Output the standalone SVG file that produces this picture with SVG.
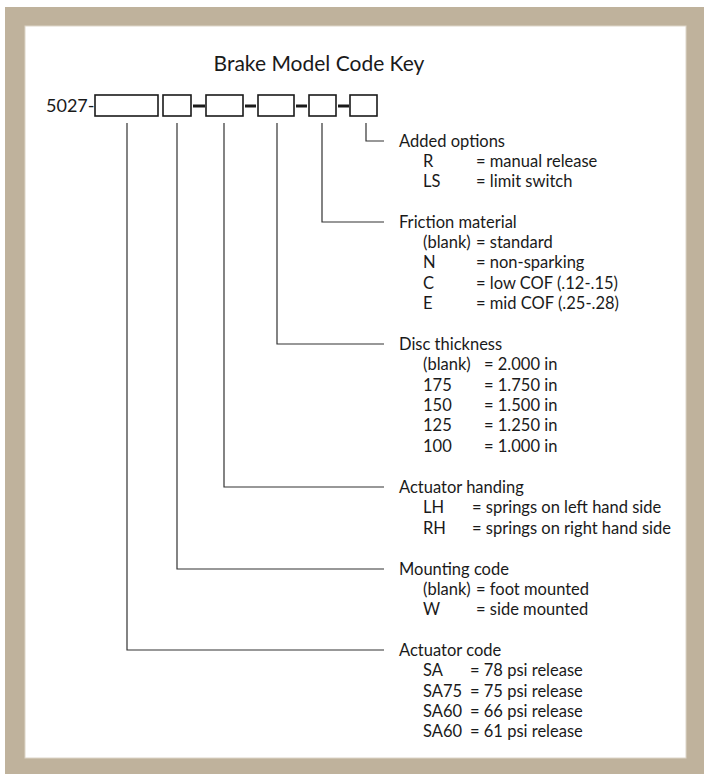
<svg xmlns="http://www.w3.org/2000/svg" width="704" height="774" viewBox="0 0 704 774">
<style>
text{font-family:Lato,"Open Sans","Liberation Sans",sans-serif;fill:#1a1a1a;font-size:16.5px}
.title{font-size:21px}
.code{font-size:18px}
.box{fill:#fff;stroke:#1a1a1a;stroke-width:1.6}
.dash{stroke:#1a1a1a;stroke-width:3}
.conn{fill:none;stroke:#333;stroke-width:1.2}
</style>
<rect x="5" y="7" width="700" height="770" fill="#bfb29c"/>
<rect x="25" y="26" width="661" height="732" fill="#fff" stroke="#ddd5c8" stroke-width="1"/>
<text class="title" x="319" y="71" text-anchor="middle">Brake Model Code Key</text>
<g id="code">
<text class="code" x="46" y="112">5027-</text>
<rect class="box" x="95" y="95" width="63" height="21"/>
<rect class="box" x="163" y="95" width="28" height="21"/>
<line class="dash" x1="193" y1="106" x2="205" y2="106"/>
<rect class="box" x="206" y="95" width="37" height="21"/>
<line class="dash" x1="245" y1="106" x2="256" y2="106"/>
<rect class="box" x="258" y="95" width="36" height="21"/>
<line class="dash" x1="296" y1="106" x2="307" y2="106"/>
<rect class="box" x="309" y="95" width="27" height="21"/>
<line class="dash" x1="338" y1="106" x2="349" y2="106"/>
<rect class="box" x="350" y="95" width="27" height="21"/>
</g>
<g id="connectors">
<polyline class="conn" points="366,123 366,141 384,141"/>
<polyline class="conn" points="322,123 322,222 384,222"/>
<polyline class="conn" points="277,123 277,344 384,344"/>
<polyline class="conn" points="224,123 224,487 384,487"/>
<polyline class="conn" points="177,123 177,569 384,569"/>
<polyline class="conn" points="127,123 127,650 384,650"/>
</g>
<g id="added-options">
<text x="399" y="147">Added options</text>
<text x="423" y="167">R</text><text x="476" y="167">= manual release</text>
<text x="423" y="187">LS</text><text x="476" y="187">= limit switch</text>
</g>
<g id="friction-material">
<text x="399" y="228">Friction material</text>
<text x="423" y="248">(blank)</text><text x="476" y="248">= standard</text>
<text x="423" y="268">N</text><text x="476" y="268">= non-sparking</text>
<text x="423" y="289">C</text><text x="476" y="289">= low COF (.12-.15)</text>
<text x="423" y="309">E</text><text x="476" y="309">= mid COF (.25-.28)</text>
</g>
<g id="disc-thickness">
<text x="399" y="350">Disc thickness</text>
<text x="423" y="370">(blank)</text><text x="484" y="370">= 2.000 in</text>
<text x="423" y="391">175</text><text x="484" y="391">= 1.750 in</text>
<text x="423" y="411">150</text><text x="484" y="411">= 1.500 in</text>
<text x="423" y="431">125</text><text x="484" y="431">= 1.250 in</text>
<text x="423" y="452">100</text><text x="484" y="452">= 1.000 in</text>
</g>
<g id="actuator-handing">
<text x="399" y="493">Actuator handing</text>
<text x="423" y="513">LH</text><text x="472" y="513">= springs on left hand side</text>
<text x="423" y="534">RH</text><text x="472" y="534">= springs on right hand side</text>
</g>
<g id="mounting-code">
<text x="399" y="575">Mounting code</text>
<text x="423" y="595">(blank)</text><text x="476" y="595">= foot mounted</text>
<text x="423" y="615">W</text><text x="476" y="615">= side mounted</text>
</g>
<g id="actuator-code">
<text x="399" y="656">Actuator code</text>
<text x="423" y="676">SA</text><text x="470" y="676">= 78 psi release</text>
<text x="423" y="697">SA75</text><text x="470" y="697">= 75 psi release</text>
<text x="423" y="717">SA60</text><text x="470" y="717">= 66 psi release</text>
<text x="423" y="737">SA60</text><text x="470" y="737">= 61 psi release</text>
</g>
</svg>
